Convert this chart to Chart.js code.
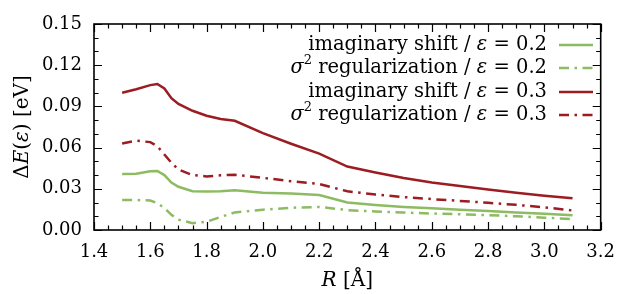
<!DOCTYPE html>
<html>
<head>
<meta charset="utf-8">
<script src="https://cdn.jsdelivr.net/npm/chart.js@4"></script>
<style>
  html, body { margin: 0; padding: 0; background: #fff; }
  #wrap { width: 627px; height: 294px; }
</style>
</head>
<body>
<div id="wrap"><canvas id="deltaChart" width="627" height="294"></canvas></div>
<script>
// bond length R in Angstrom
const distances = [1.5, 1.55, 1.6, 1.625, 1.65, 1.675, 1.7, 1.75, 1.8, 1.85, 1.9, 2.0, 2.1, 2.2, 2.3, 2.4, 2.5, 2.6, 2.7, 2.8, 2.9, 3.0, 3.1];

// Delta E(eps) in eV
const imagShift02 = [0.0408, 0.0410, 0.0428, 0.0430, 0.0400, 0.0345, 0.0315, 0.0282, 0.0280, 0.0282, 0.0290, 0.0272, 0.0265, 0.0255, 0.0200, 0.0182, 0.0168, 0.0158, 0.0148, 0.0138, 0.0128, 0.0118, 0.0108];
const sigmaReg02 = [0.0218, 0.0218, 0.0215, 0.0195, 0.0160, 0.0110, 0.0075, 0.0050, 0.0060, 0.0095, 0.0128, 0.0148, 0.0162, 0.0168, 0.0145, 0.0135, 0.0127, 0.0120, 0.0115, 0.0108, 0.0100, 0.0090, 0.0080];
const imagShift03 = [0.1000, 0.1025, 0.1055, 0.1063, 0.1030, 0.0960, 0.0918, 0.0868, 0.0832, 0.0808, 0.0795, 0.0705, 0.0628, 0.0556, 0.0462, 0.0418, 0.0378, 0.0346, 0.0320, 0.0295, 0.0272, 0.0250, 0.0231];
const sigmaReg03 = [0.0630, 0.0650, 0.0640, 0.0610, 0.0550, 0.0490, 0.0440, 0.0400, 0.0390, 0.0398, 0.0402, 0.0380, 0.0355, 0.0335, 0.0282, 0.0258, 0.0240, 0.0225, 0.0212, 0.0198, 0.0183, 0.0165, 0.0142];

const xMin = 1.4, xMax = 3.2, xStep = 0.2;
const yMin = 0, yMax = 0.15, yStep = 0.03;

const GREEN = "#8dbb62";
const RED = "#9b1c21";
const DASHDOT = [10, 5.5, 2.5, 5.5];
const FONT = "'DejaVu Serif', serif";

const toPoints = (vals) => distances.map((r, i) => ({ x: r, y: vals[i] }));

// rich text runs: [text, style] where style is "n", "i" or "sup"
const legendRuns = [
  [["imaginary shift / ", "n"], ["ε", "i"], [" = 0.2", "n"]],
  [["σ", "i"], ["2", "sup"], [" regularization / ", "n"], ["ε", "i"], [" = 0.2", "n"]],
  [["imaginary shift / ", "n"], ["ε", "i"], [" = 0.3", "n"]],
  [["σ", "i"], ["2", "sup"], [" regularization / ", "n"], ["ε", "i"], [" = 0.3", "n"]],
];

function runFont(style, size) {
  if (style === "i") return "italic " + size + "px " + FONT;
  if (style === "sup") return Math.round(size * 0.68) + "px " + FONT;
  return size + "px " + FONT;
}

function runsWidth(ctx, runs, size) {
  let w = 0;
  runs.forEach(([t, s]) => { ctx.font = runFont(s, size); w += ctx.measureText(t).width; });
  return w;
}

function drawRuns(ctx, runs, x, y, size) {
  let cx = x;
  runs.forEach(([t, s]) => {
    ctx.font = runFont(s, size);
    const dy = s === "sup" ? -size * 0.38 : 0;
    ctx.fillText(t, cx, y + dy);
    cx += ctx.measureText(t).width;
  });
}

// frame, inward ticks, axis titles and legend
const framePlugin = {
  id: "frame",
  afterDraw(chart) {
    const { ctx, chartArea: a, scales } = chart;
    const xs = scales.x, ys = scales.y;
    ctx.save();
    ctx.strokeStyle = "#000";
    ctx.lineWidth = 1.2;
    ctx.beginPath();
    for (let k = 0; k <= Math.round((xMax - xMin) / 0.05); k++) {
      const v = xMin + k * 0.05;
      const px = Math.round(xs.getPixelForValue(v)) + 0.5;
      const len = k % 4 === 0 ? 8 : 4.5;
      ctx.moveTo(px, a.bottom); ctx.lineTo(px, a.bottom - len);
      ctx.moveTo(px, a.top); ctx.lineTo(px, a.top + len);
    }
    for (let k = 0; k <= Math.round((yMax - yMin) / 0.01); k++) {
      const v = yMin + k * 0.01;
      const py = Math.round(ys.getPixelForValue(v)) + 0.5;
      const len = k % 3 === 0 ? 8 : 4.5;
      ctx.moveTo(a.left, py); ctx.lineTo(a.left + len, py);
      ctx.moveTo(a.right, py); ctx.lineTo(a.right - len, py);
    }
    ctx.stroke();
    ctx.lineWidth = 1.6;
    ctx.strokeRect(a.left, a.top, a.right - a.left, a.bottom - a.top);

    ctx.fillStyle = "#000";
    ctx.textBaseline = "middle";
    const titleSize = 20;
    const legendSize = 19.5;

    // x title
    const xt = [["R", "i"], [" [Å]", "n"]];
    const xw = runsWidth(ctx, xt, titleSize);
    drawRuns(ctx, xt, (a.left + a.right) / 2 - xw / 2, 281, titleSize);

    // y title
    const yt = [["Δ", "n"], ["E", "i"], ["(", "n"], ["ε", "i"], [") [eV]", "n"]];
    const yw = runsWidth(ctx, yt, titleSize);
    ctx.save();
    ctx.translate(23, (a.top + a.bottom) / 2);
    ctx.rotate(-Math.PI / 2);
    drawRuns(ctx, yt, -yw / 2, 0, titleSize);
    ctx.restore();

    // legend: text right aligned, line sample on the right
    const rowsY = [45, 68, 92, 115];
    chart.data.datasets.forEach((ds, i) => {
      const runs = legendRuns[i];
      const w = runsWidth(ctx, runs, legendSize);
      ctx.fillStyle = "#000";
      drawRuns(ctx, runs, 547 - w, rowsY[i], legendSize);
      ctx.strokeStyle = ds.borderColor;
      ctx.lineWidth = ds.borderWidth;
      ctx.setLineDash(ds.borderDash || []);
      ctx.beginPath();
      ctx.moveTo(559, rowsY[i]);
      ctx.lineTo(593, rowsY[i]);
      ctx.stroke();
      ctx.setLineDash([]);
    });
    ctx.restore();
  },
};

const ctx = document.getElementById("deltaChart").getContext("2d");
new Chart(ctx, {
  type: "line",
  data: {
    datasets: [
      { label: "imaginary shift / ε = 0.2", data: toPoints(imagShift02), borderColor: GREEN, borderWidth: 2.5 },
      { label: "σ2 regularization / ε = 0.2", data: toPoints(sigmaReg02), borderColor: GREEN, borderWidth: 2.5, borderDash: DASHDOT },
      { label: "imaginary shift / ε = 0.3", data: toPoints(imagShift03), borderColor: RED, borderWidth: 2.5 },
      { label: "σ2 regularization / ε = 0.3", data: toPoints(sigmaReg03), borderColor: RED, borderWidth: 2.5, borderDash: DASHDOT },
    ],
  },
  options: {
    responsive: false,
    animation: false,
    devicePixelRatio: 1,
    layout: { padding: { top: 24, right: 16, left: 0, bottom: 0 } },
    elements: { point: { radius: 0 }, line: { tension: 0, fill: false } },
    plugins: { legend: { display: false }, tooltip: { enabled: false } },
    scales: {
      x: {
        type: "linear",
        min: xMin,
        max: xMax,
        grid: { display: false, drawTicks: false },
        border: { display: false },
        ticks: {
          stepSize: xStep,
          color: "#000",
          padding: 12,
          font: { family: FONT, size: 18 },
          maxRotation: 0,
          callback: (v) => v.toFixed(1),
        },
        afterFit: (s) => { s.height = 64; },
      },
      y: {
        min: yMin,
        max: yMax,
        grid: { display: false, drawTicks: false },
        border: { display: false },
        ticks: {
          stepSize: yStep,
          color: "#000",
          padding: 12,
          font: { family: FONT, size: 18 },
          callback: (v) => v.toFixed(2),
        },
        afterFit: (s) => { s.width = 94; },
      },
    },
  },
  plugins: [framePlugin],
});
</script>
</body>
</html>
